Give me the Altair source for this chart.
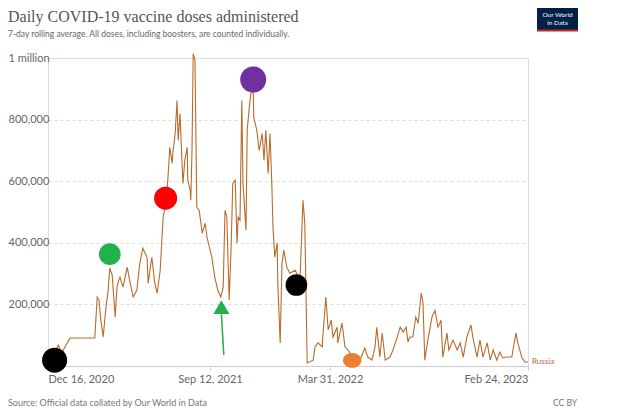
import altair as alt
import pandas as pd

# ---- main series (Russia, 7-day rolling average of daily doses) ----
dates = [
    "2020-12-16", "2020-12-28", "2021-01-02", "2021-01-08", "2021-01-15", "2021-01-22", "2021-03-04", "2021-03-08", "2021-03-11", "2021-03-14",
    "2021-03-18", "2021-03-21", "2021-03-24", "2021-03-26", "2021-03-29", "2021-04-02", "2021-04-05", "2021-04-07", "2021-04-10", "2021-04-13",
    "2021-04-15", "2021-04-20", "2021-04-27", "2021-05-02", "2021-05-07", "2021-05-13", "2021-05-18", "2021-05-23", "2021-05-30", "2021-06-01",
    "2021-06-07", "2021-06-12", "2021-06-16", "2021-06-21", "2021-06-24", "2021-06-26", "2021-07-01", "2021-07-04", "2021-07-07", "2021-07-11",
    "2021-07-12", "2021-07-16", "2021-07-19", "2021-07-21", "2021-07-24", "2021-07-27", "2021-07-29", "2021-08-01", "2021-08-05", "2021-08-06",
    "2021-08-10", "2021-08-11", "2021-08-13", "2021-08-15", "2021-08-18", "2021-08-21", "2021-08-25", "2021-08-30", "2021-09-04", "2021-09-07",
    "2021-09-15", "2021-09-20", "2021-09-25", "2021-09-30", "2021-10-04", "2021-10-07", "2021-10-10", "2021-10-14", "2021-10-17", "2021-10-20",
    "2021-10-24", "2021-10-27", "2021-10-29", "2021-11-01", "2021-11-04", "2021-11-06", "2021-11-11", "2021-11-13", "2021-11-16", "2021-11-19",
    "2021-11-23", "2021-11-24", "2021-11-29", "2021-12-03", "2021-12-08", "2021-12-11", "2021-12-14", "2021-12-18", "2021-12-21", "2021-12-24",
    "2021-12-26", "2021-12-29", "2022-01-02", "2022-01-03", "2022-01-07", "2022-01-10", "2022-01-13", "2022-01-18", "2022-01-23", "2022-02-01",
    "2022-02-09", "2022-02-14", "2022-02-17", "2022-02-21", "2022-03-03", "2022-03-06", "2022-03-11", "2022-03-18", "2022-03-19", "2022-03-24",
    "2022-03-28", "2022-04-02", "2022-04-05", "2022-04-12", "2022-04-13", "2022-04-20", "2022-04-25", "2022-04-30", "2022-05-08", "2022-05-20",
    "2022-05-28", "2022-06-02", "2022-06-09", "2022-06-14", "2022-06-17", "2022-06-22", "2022-06-26", "2022-07-01", "2022-07-09", "2022-07-14",
    "2022-07-21", "2022-07-26", "2022-07-31", "2022-08-05", "2022-08-08", "2022-08-11", "2022-08-16", "2022-08-21", "2022-08-25", "2022-08-30",
    "2022-09-02", "2022-09-05", "2022-09-10", "2022-09-17", "2022-09-22", "2022-09-27", "2022-10-02", "2022-10-05", "2022-10-12", "2022-10-15",
    "2022-10-22", "2022-10-29", "2022-11-03", "2022-11-08", "2022-11-14", "2022-11-21", "2022-11-24", "2022-12-01", "2022-12-06", "2022-12-11",
    "2022-12-18", "2022-12-23", "2022-12-28", "2023-01-03", "2023-01-08", "2023-01-13", "2023-01-20", "2023-01-28", "2023-02-01", "2023-02-04",
    "2023-02-07", "2023-02-14", "2023-02-19", "2023-02-24",
]
doses = [
    13000, 45000, 68000, 42000, 68000, 91000, 91000, 224000, 214000, 149000,
    94000, 159000, 214000, 240000, 318000, 295000, 214000, 159000, 256000, 279000,
    288000, 256000, 321000, 269000, 224000, 246000, 334000, 382000, 353000, 269000,
    353000, 269000, 237000, 311000, 418000, 483000, 538000, 613000, 710000, 658000,
    690000, 755000, 862000, 732000, 820000, 677000, 593000, 668000, 710000, 603000,
    570000, 538000, 700000, 1014000, 992000, 515000, 506000, 431000, 463000, 418000,
    353000, 288000, 246000, 224000, 256000, 506000, 483000, 214000, 376000, 593000,
    603000, 399000, 483000, 473000, 862000, 593000, 441000, 765000, 830000, 885000,
    895000, 807000, 765000, 700000, 755000, 668000, 765000, 625000, 755000, 593000,
    450000, 353000, 399000, 269000, 75000, 334000, 376000, 321000, 301000, 311000,
    279000, 538000, 463000, 10000, 19000, 62000, 75000, 62000, 94000, 224000,
    117000, 149000, 94000, 126000, 75000, 139000, 62000, 52000, 29000, 19000,
    58000, 29000, 19000, 62000, 126000, 29000, 107000, 19000, 29000, 52000,
    94000, 126000, 110000, 126000, 78000, 94000, 94000, 159000, 139000, 237000,
    204000, 19000, 84000, 159000, 181000, 126000, 149000, 29000, 107000, 52000,
    84000, 52000, 75000, 29000, 94000, 133000, 94000, 29000, 84000, 29000,
    75000, 19000, 52000, 19000, 45000, 26000, 29000, 29000, 75000, 107000,
    75000, 26000, 13000, 13000,
]
assert len(dates) == len(doses)

# ---- hand-drawn annotation markers ----
mark_dates = ["2020-12-27", "2021-03-29", "2021-06-30", "2021-11-23", "2022-02-03", "2022-05-07"]
mark_values = [19000, 363000, 545000, 930000, 263000, 18000]
mark_colors = ["#000000", "#22b14c", "#ff0000", "#7030a0", "#000000", "#ed7d31"]
mark_sizes = [625, 470, 529, 676, 470, 340]
ELLIPSE = "M-1,0A1,0.8 0 1,0 1,0A1,0.8 0 1,0 -1,0Z"
mark_shapes = ["circle", "circle", "circle", "circle", "circle", ELLIPSE]

arrow_head_date = ["2021-10-01"]
arrow_head_value = [191000]
arrow_shaft = {"date": "2021-10-01", "date2": "2021-10-05", "v": 168000, "v2": 36000}

x_ticks = ["2020-12-16", "2021-09-12", "2022-03-31", "2023-02-24"]
y_ticks = [200000, 400000, 600000, 800000, 1000000]

TITLE = "Daily COVID-19 vaccine doses administered"
SUBTITLE = "7-day rolling average. All doses, including boosters, are counted individually."
SOURCE = "Source: Official data collated by Our World in Data"

LINE_COLOR = "#b86b2b"
FONT = "Lato"

df = pd.DataFrame({"date": dates, "doses": doses})
marks_df = pd.DataFrame({"date": mark_dates, "v": mark_values, "color": mark_colors,
                         "size": mark_sizes, "shape": mark_shapes})
arrow_df = pd.DataFrame({"date": arrow_head_date, "v": arrow_head_value})
shaft_df = pd.DataFrame([arrow_shaft])
last_df = df.tail(1).assign(label="Russia")
one = pd.DataFrame({"k": [0]})

x_scale = alt.Scale(type="utc", domain=["2020-12-16", "2023-02-24"])
y_scale = alt.Scale(domain=[0, 1000000])

x_axis = alt.Axis(
    values=[alt.DateTime(year=int(d[:4]), month=int(d[5:7]), date=int(d[8:]), utc=True) for d in x_ticks],
    labelExpr="utcFormat(datum.value, '%b %d, %Y')",
    labelFlush=True, labelFont=FONT, labelFontSize=11, labelColor="#666",
    tickSize=4, tickColor="#ccc", domainColor="#ccc", labelPadding=3,
    grid=False, title=None,
)
y_axis = alt.Axis(
    values=y_ticks,
    labelExpr="datum.value >= 1000000 ? '1 million' : format(datum.value, ',')",
    labelAlign="left", labelBaseline="middle", labelPadding=40,
    labelFont=FONT, labelFontSize=11, labelColor="#666",
    ticks=False, domain=False, grid=True, gridColor="#ddd", gridDash=[3, 3],
    title=None,
)

x = alt.X("date:T", scale=x_scale, axis=x_axis)
y = alt.Y("doses:Q", scale=y_scale, axis=y_axis)

line = alt.Chart(df).mark_line(color=LINE_COLOR, strokeWidth=1.1).encode(x=x, y=y)

russia = alt.Chart(last_df).mark_text(
    align="left", baseline="middle", dx=4, font=FONT, fontSize=8, color="#b5693a"
).encode(x=alt.X("date:T", scale=x_scale), y=alt.Y("doses:Q", scale=y_scale), text="label:N")

dots = alt.Chart(marks_df).mark_point(filled=True, opacity=1, strokeWidth=0).encode(
    x=alt.X("date:T", scale=x_scale),
    y=alt.Y("v:Q", scale=y_scale),
    color=alt.Color("color:N", scale=None),
    size=alt.Size("size:Q", scale=None),
    shape=alt.Shape("shape:N", scale=None),
)

shaft = alt.Chart(shaft_df).mark_rule(color="#22b14c", strokeWidth=1.5).encode(
    x=alt.X("date:T", scale=x_scale), x2="date2:T",
    y=alt.Y("v:Q", scale=y_scale), y2="v2:Q",
)
head = alt.Chart(arrow_df).mark_point(filled=True, opacity=1, shape="triangle-up", size=256,
                                      color="#22b14c", strokeWidth=0).encode(
    x=alt.X("date:T", scale=x_scale), y=alt.Y("v:Q", scale=y_scale))

# title, subtitle, OWID logo, source and licence
title = alt.Chart(one).mark_text(text=TITLE, font="Liberation Serif", fontSize=16, color="#555",
                                 align="left", baseline="alphabetic").encode(
    x=alt.value(-40), y=alt.value(-36))
subtitle = alt.Chart(one).mark_text(text=SUBTITLE, font=FONT, fontSize=8.5, color="#666",
                                    align="left", baseline="alphabetic").encode(
    x=alt.value(-40), y=alt.value(-21))
logo_box = alt.Chart(one).mark_rect(color="#002147").encode(
    x=alt.value(489), x2=alt.value(530), y=alt.value(-50), y2=alt.value(-28))
logo_red = alt.Chart(one).mark_rect(color="#ce261e").encode(
    x=alt.value(489), x2=alt.value(530), y=alt.value(-28.5), y2=alt.value(-26.5))
logo_t1 = alt.Chart(one).mark_text(text="Our World", font=FONT, fontSize=6.5, color="white",
                                   baseline="middle").encode(x=alt.value(509.5), y=alt.value(-43))
logo_t2 = alt.Chart(one).mark_text(text="in Data", font=FONT, fontSize=6.5, color="white",
                                   baseline="middle").encode(x=alt.value(509.5), y=alt.value(-35))
source = alt.Chart(one).mark_text(text=SOURCE, font=FONT, fontSize=9, color="#777", align="left",
                                  baseline="middle").encode(x=alt.value(-40), y=alt.value(345))
ccby = alt.Chart(one).mark_text(text="CC BY", font=FONT, fontSize=8.5, color="#777", align="left",
                                baseline="middle").encode(x=alt.value(505), y=alt.value(345))

chart = alt.layer(
    line, russia, dots, shaft, head, title, subtitle,
    logo_box, logo_red, logo_t1, logo_t2, source, ccby
).properties(
    width=480, height=308,
    padding={"left": 40, "top": 50, "right": 91, "bottom": 44},
    autosize=alt.AutoSizeParams(type="none"),
).configure_view(stroke=None).configure(background="white")

chart.save("out.html", embed_options={"renderer": "svg", "actions": False})
